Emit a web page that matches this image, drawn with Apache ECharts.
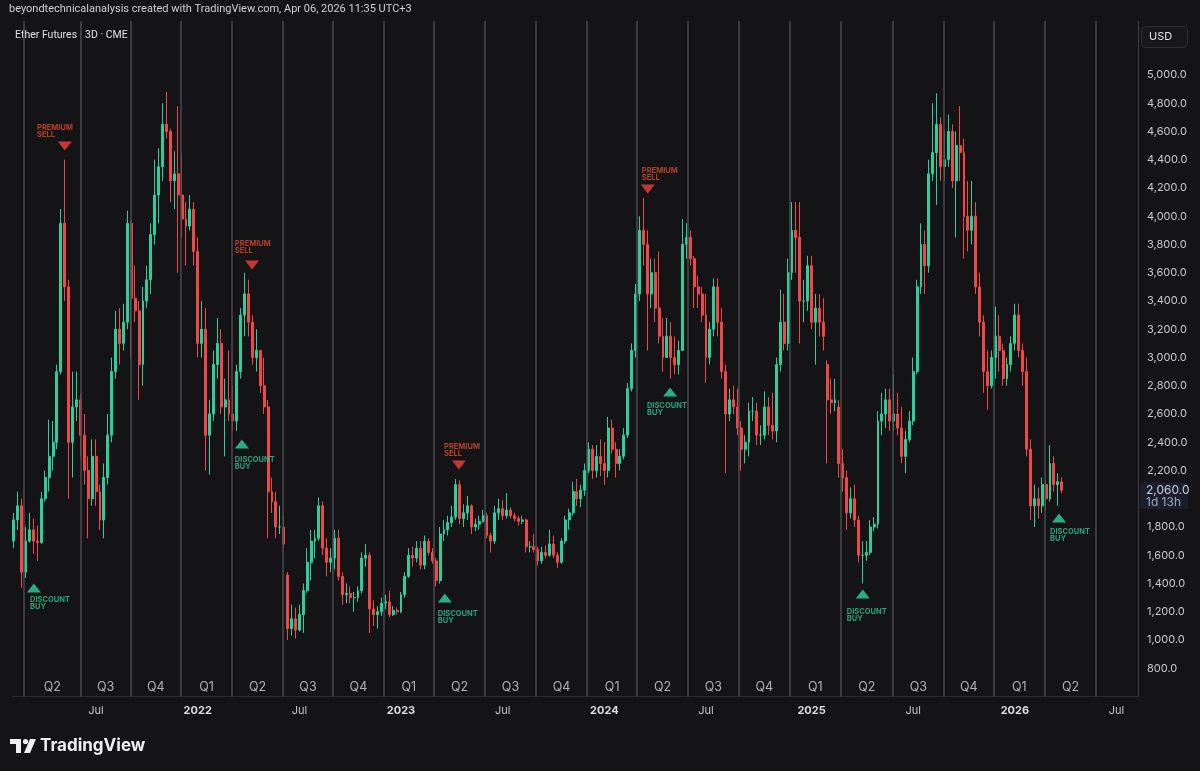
<!DOCTYPE html>
<html lang="en">
<head>
  <meta charset="UTF-8">
  <title>Ether Futures · 3D · CME</title>
  <script src="https://cdn.jsdelivr.net/npm/echarts@6/dist/echarts.min.js"></script>
  <style>
    html, body { margin: 0; padding: 0; background: #141416; }
    #main { width: 1200px; height: 771px; }
  </style>
</head>
<body>
  <div id="main"></div>

  <script>
  // weekly candles, first week starts Mon 2021-02-08
  const firstWeek = Date.UTC(2021, 1, 8);
  const totalWeeks = 288;   // axis runs on to early Aug 2026

  const opens = [
    1700,1850,1950,1480,1700,1780,1700,1690,2000,2150,
    2300,2400,2900,3950,3500,2400,2650,2700,2450,2200,
    2000,2300,2050,1850,2150,2450,2900,3200,3100,3250,
    3950,3420,3330,2950,3400,3550,3870,4150,4350,4650,
    4600,4250,4300,4150,3980,3930,4050,3750,3100,3200,
    2450,2600,2950,3100,2650,2700,2600,2550,2900,3300,
    3450,3250,3000,3050,2800,2650,2050,1980,1800,1800,
    1460,1080,1150,1070,1180,1350,1550,1700,1720,1950,
    1650,1550,1580,1720,1450,1320,1330,1300,1300,1350,
    1580,1600,1220,1180,1200,1260,1270,1180,1210,1200,
    1320,1450,1600,1580,1650,1530,1700,1620,1560,1420,
    1750,1780,1830,1870,2100,1860,1900,1950,1800,1820,
    1840,1880,1740,1700,1900,1930,1880,1920,1880,1860,
    1840,1850,1660,1660,1640,1560,1620,1600,1680,1600,
    1550,1700,1850,1900,2050,2000,2060,2200,2350,2200,
    2300,2250,2200,2500,2350,2250,2300,2450,2780,3050,
    3450,3900,3800,3450,3600,3350,3150,3000,3150,3000,
    2950,3050,3800,3850,3700,3500,3450,3300,3000,3200,
    3500,3250,2900,2600,2700,2650,2500,2350,2400,2620,
    2620,2450,2450,2650,2520,2480,2950,3250,3100,3600,
    3900,3850,3400,3400,3650,3250,3350,3250,2950,2700,
    2680,2650,2250,2150,1900,2000,1850,1600,1600,1620,
    1800,1820,2550,2600,2700,2550,2600,2500,2300,2420,
    2550,2900,3500,3800,3650,4300,4450,4650,4350,4400,
    4600,4250,4500,4450,4000,3900,4000,3500,3250,2900,
    2800,3000,3150,3050,2850,2950,3100,3300,3050,2900,
    2350,1950,2000,1950,2100,2000,2250,2100,2120
  ];
  const closes = [
    1850,1950,1480,1700,1780,1700,1690,2000,2150,2300,
    2400,2900,3950,3500,2400,2650,2700,2450,2200,2000,
    2300,2050,1850,2150,2450,2900,3200,3100,3250,3950,
    3420,3330,2950,3400,3550,3870,4150,4350,4650,4600,
    4250,4300,4150,3980,3930,4050,3750,3100,3200,2450,
    2600,2950,3100,2650,2700,2600,2550,2900,3300,3450,
    3250,3000,3050,2800,2650,2050,1980,1800,1800,1680,
    1080,1150,1070,1180,1350,1550,1700,1720,1950,1650,
    1550,1580,1720,1450,1320,1330,1300,1300,1350,1580,
    1600,1220,1180,1200,1260,1270,1180,1210,1200,1320,
    1450,1600,1580,1650,1530,1700,1620,1560,1420,1750,
    1780,1830,1870,2100,1860,1900,1950,1800,1820,1840,
    1880,1740,1700,1900,1930,1880,1920,1880,1860,1840,
    1850,1660,1660,1640,1560,1620,1600,1680,1600,1550,
    1700,1850,1900,2050,2000,2060,2200,2350,2200,2300,
    2250,2200,2500,2350,2250,2300,2450,2780,3050,3450,
    3900,3800,3450,3600,3350,3150,3000,3150,3000,2950,
    3050,3800,3850,3700,3500,3450,3300,3000,3200,3500,
    3250,2900,2600,2700,2650,2500,2350,2400,2620,2620,
    2450,2450,2650,2520,2480,2950,3250,3100,3600,3900,
    3850,3400,3400,3650,3250,3350,3250,3150,2700,2680,
    2700,2250,2150,1900,2000,1850,1600,1600,1620,1800,
    1820,2550,2600,2700,2550,2600,2500,2300,2420,2550,
    2900,3500,3800,3650,4300,4450,4650,4350,4400,4600,
    4250,4500,4450,4000,3900,4000,3500,3250,2900,2800,
    3000,3150,3050,2850,2950,3100,3300,3050,2900,2350,
    1950,2000,1950,2100,2000,2250,2100,2120,2060
  ];
  const lows = [
    1650,1780,1370,1440,1690,1610,1560,1680,1980,2050,
    2200,2350,2880,3400,2000,2150,2550,2300,2100,1720,
    1950,1950,1780,1720,2100,2400,2850,2950,3050,3200,
    3000,3250,2700,2800,3350,3450,3800,3950,4250,4550,
    4100,4050,3600,3850,3650,3900,3650,3000,3000,2200,
    2170,2550,2850,2600,2300,2550,2480,2480,2850,3150,
    3150,2950,2900,2750,2600,1720,1900,1720,1750,1650,
    1000,1030,1010,1060,1050,1330,1420,1580,1700,1600,
    1450,1480,1500,1420,1250,1260,1260,1200,1270,1330,
    1520,1050,1100,1080,1170,1220,1160,1170,1180,1190,
    1300,1440,1520,1550,1500,1500,1600,1540,1380,1400,
    1700,1740,1800,1850,1820,1800,1850,1750,1770,1780,
    1830,1720,1620,1680,1850,1850,1860,1860,1840,1810,
    1820,1620,1620,1620,1530,1540,1580,1590,1580,1510,
    1540,1680,1780,1880,1950,1940,2020,2180,2140,2150,
    2160,2100,2150,2320,2150,2200,2280,2430,2760,3000,
    3400,3650,3050,3350,3250,3100,2900,3000,2850,2880,
    2880,3050,3700,3650,3350,3350,3250,2820,2950,3150,
    3150,2850,2180,2550,2600,2450,2200,2250,2300,2550,
    2380,2380,2420,2450,2420,2400,2900,3050,3050,3550,
    3600,3100,3250,3330,3200,2950,3150,3050,2250,2600,
    2620,2150,2050,1780,1860,1800,1550,1400,1560,1600,
    1770,1790,2450,2500,2480,2480,2450,2250,2180,2400,
    2520,2880,3450,3450,3600,4250,4080,4250,4250,4350,
    4200,3850,4250,3700,3750,3800,3450,3150,2750,2630,
    2780,2850,2900,2800,2800,2900,3050,3000,2800,2300,
    1850,1800,1860,1900,1920,1980,2050,1950,2040
  ];
  const highs = [
    1900,2050,2000,1800,1900,1860,1810,2050,2200,2560,
    2550,2950,4050,4400,3550,2900,2900,2750,2600,2300,
    2420,2420,2100,2250,2600,3000,3330,3350,3380,4040,
    3980,3650,3400,3500,3650,3950,4400,4480,4800,4880,
    4620,4460,4780,4450,4100,4150,4100,3850,3400,3350,
    2700,3050,3280,3200,2850,3050,2800,2950,3350,3600,
    3550,3300,3200,3050,3000,2700,2150,2050,1950,1880,
    1480,1250,1230,1250,1400,1650,1780,1780,2010,1980,
    1720,1650,1780,1780,1480,1400,1380,1340,1380,1620,
    1680,1620,1280,1240,1300,1320,1350,1240,1230,1340,
    1480,1650,1660,1700,1700,1740,1720,1650,1580,1800,
    1850,1880,1950,2140,2130,1960,2020,1960,1860,1880,
    1920,1900,1760,1950,2000,1990,2040,1940,1900,1880,
    1880,1860,1700,1750,1660,1660,1670,1780,1740,1620,
    1720,1880,1930,2120,2140,2100,2250,2400,2380,2380,
    2420,2400,2580,2560,2400,2350,2500,2820,3100,3520,
    4000,4130,3900,3700,3700,3750,3280,3280,3250,3150,
    3120,3980,3950,3900,3720,3580,3500,3450,3250,3560,
    3560,3350,2950,2780,2800,2780,2550,2450,2680,2720,
    2680,2520,2760,2720,2750,3000,3480,3450,3700,4100,
    4100,4100,3550,3720,3720,3450,3450,3420,2980,2850,
    2850,2700,2350,2200,2080,2100,1880,1700,1700,1850,
    1870,2620,2750,2780,2780,2880,2750,2650,2480,2620,
    3000,3550,3950,3900,4400,4800,4870,4700,4600,4720,
    4650,4600,4780,4550,4250,4250,4100,3600,3300,3050,
    3050,3360,3300,3100,3000,3150,3380,3380,3100,3000,
    2420,2100,2080,2150,2130,2380,2300,2180,2150
  ];

  // quarter dividers of the session indicator, in weeks from the first bar
  const quarterLineWeeks = [2.6, 17.0, 29.9, 42.7, 55.8, 68.8, 81.6, 94.6, 107.4, 120.5, 133.5,
                            146.6, 159.4, 172.4, 185.4, 198.4, 211.5, 224.8, 237.8, 250.6, 263.7, 276.8];
  const quarterLabels = ['Q2','Q3','Q4','Q1','Q2','Q3','Q4','Q1','Q2','Q3','Q4',
                         'Q1','Q2','Q3','Q4','Q1','Q2','Q3','Q4','Q1','Q2'];

  // signal markers (week position, price level)
  const sellWeeks = [13.0, 60.9, 113.8, 162.1];
  const sellLevels = [4497, 3655, 2239, 4193];
  const sellTextWeeks = [5.9, 56.5, 110.0, 160.6];
  const sellTextLevels = [4600, 3779, 2345, 4296];
  const buyWeeks = [5.1, 58.3, 110.2, 167.8, 217.1, 267.3];
  const buyLevels = [1368, 2387, 1297, 2756, 1325, 1864];
  const buyTextWeeks = [4.1, 56.5, 108.4, 161.9, 213.0, 265.0];
  const buyTextLevels = [1262, 2253, 1163, 2635, 1172, 1743];

  const UP = '#2bcf9c';
  const DOWN = '#f0474a';
  const FONT = 'Inter, "Noto Sans", sans-serif';

  const weekCats = [];
  for (let k = 0; k < totalWeeks; k++) {
    weekCats.push(new Date(firstWeek + k * 7 * 864e5).toISOString().slice(0, 10));
  }
  const candles = opens.map((o, i) => [o, closes[i], lows[i], highs[i]]);
  const quarterMid = quarterLabels.map((q, i) => [(quarterLineWeeks[i] + quarterLineWeeks[i + 1]) / 2, 667]);
  const lastClose = closes[closes.length - 1];

  function fmtPrice(v) {
    return Math.round(v).toString().replace(/\B(?=(\d{3})+(?!\d))/g, ',') + '.0';
  }
  function isLabelWeek(idx) {
    const d = new Date(weekCats[idx] + 'T00:00:00Z');
    return d.getUTCDate() <= 7 && (d.getUTCMonth() === 0 || d.getUTCMonth() === 6);
  }

  const chart = echarts.init(document.getElementById('main'));

  chart.setOption({
    animation: false,
    backgroundColor: '#141416',
    textStyle: { fontFamily: FONT },
    grid: { left: 12, right: 62, top: 21.3, height: 675.2 },
    xAxis: [{
      type: 'category',
      data: weekCats,
      boundaryGap: true,
      axisLine: { lineStyle: { color: '#2c2c30' } },
      axisTick: { show: false },
      splitLine: { show: false },
      axisLabel: {
        interval: (idx) => isLabelWeek(idx),
        margin: 9,
        color: '#c3c5cc',
        fontSize: 11,
        fontFamily: FONT,
        formatter: (val) => {
          const d = new Date(val + 'T00:00:00Z');
          return d.getUTCMonth() === 0 ? '{yr|' + d.getUTCFullYear() + '}' : 'Jul';
        },
        rich: { yr: { fontWeight: 'bold', color: '#dcdee4', fontSize: 11, fontFamily: FONT } }
      }
    }, {
      type: 'value',
      min: -0.5,
      max: totalWeeks - 0.5,
      show: false
    }],
    yAxis: {
      type: 'value',
      position: 'right',
      min: 600,
      max: 5380,
      interval: 200,
      splitLine: { show: false },
      axisLine: { show: true, onZero: false, lineStyle: { color: '#3e3e43' } },
      axisTick: { show: false },
      axisLabel: {
        margin: 9,
        color: '#c8cad0',
        fontSize: 11,
        fontFamily: FONT,
        // the last price tag covers the nearest tick
        formatter: (v) => (v < 800 || v > 5000 || Math.abs(v - lastClose) < 100) ? '' : fmtPrice(v)
      }
    },
    series: [{
      name: 'quarters',
      type: 'scatter',
      xAxisIndex: 1,
      z: 1,
      silent: true,
      symbolSize: 0,
      data: quarterMid,
      label: {
        show: true,
        position: 'inside',
        color: '#d6d8de',
        fontSize: 12.5,
        fontFamily: FONT,
        formatter: (p) => quarterLabels[p.dataIndex]
      },
      markLine: {
        silent: true,
        symbol: 'none',
        label: { show: false },
        lineStyle: { color: '#4a4a50', width: 1.5, type: 'solid' },
        data: quarterLineWeeks.map(w => ({ xAxis: w }))
      }
    }, {
      name: 'Ether Futures',
      type: 'candlestick',
      z: 3,
      barWidth: '62%',
      data: candles,
      itemStyle: {
        color: UP, color0: DOWN,
        borderColor: UP, borderColor0: DOWN,
        borderWidth: 1
      }
    }, {
      name: 'sell',
      type: 'scatter',
      xAxisIndex: 1,
      z: 4,
      symbol: 'triangle',
      symbolRotate: 180,
      symbolSize: [14, 9],
      itemStyle: { color: '#f23f3f' },
      data: sellWeeks.map((w, i) => [w, sellLevels[i]])
    }, {
      name: 'buy',
      type: 'scatter',
      xAxisIndex: 1,
      z: 4,
      symbol: 'triangle',
      symbolSize: [14, 9],
      itemStyle: { color: '#31d3a0' },
      data: buyWeeks.map((w, i) => [w, buyLevels[i]])
    }, {
      name: 'sellText',
      type: 'scatter',
      xAxisIndex: 1,
      z: 4,
      symbolSize: 0,
      data: sellTextWeeks.map((w, i) => [w, sellTextLevels[i]]),
      label: {
        show: true, position: 'right', distance: 0,
        formatter: 'PREMIUM\nSELL',
        color: '#de4a2e', fontSize: 7.5, lineHeight: 7, fontWeight: 'bold', fontFamily: FONT
      }
    }, {
      name: 'buyText',
      type: 'scatter',
      xAxisIndex: 1,
      z: 4,
      symbolSize: 0,
      data: buyTextWeeks.map((w, i) => [w, buyTextLevels[i]]),
      label: {
        show: true, position: 'right', distance: 0,
        formatter: 'DISCOUNT\nBUY',
        color: '#2fc593', fontSize: 7.5, lineHeight: 7, fontWeight: 'bold', fontFamily: FONT
      }
    }]
  });

  // last price tag on the price scale
  const py = chart.convertToPixel({ yAxisIndex: 0 }, lastClose);

  chart.setOption({
    graphic: [
      { type: 'text', left: 9, top: 4,
        style: { text: 'beyondtechnicalanalysis created with TradingView.com, Apr 06, 2026 11:35 UTC+3',
                 fill: '#cfd0d4', font: '11px Roboto, ' + FONT } },
      { type: 'text', left: 15, top: 30,
        style: { text: 'Ether Futures · 3D · CME', fill: '#dfe0e4', font: '10.5px Roboto, ' + FONT } },
      { type: 'rect', shape: { x: 1141.5, y: 26.5, width: 46, height: 21, r: 4 },
        style: { fill: '#18181b', stroke: '#2f2f34', lineWidth: 1 } },
      { type: 'text', x: 1149, y: 37,
        style: { text: 'USD', fill: '#e2e3e7', font: '11px ' + FONT, verticalAlign: 'middle' } },
      { type: 'rect', z: 10, shape: { x: 1140, y: py - 8, width: 48, height: 27, r: 2 },
        style: { fill: '#1a1f2d' } },
      { type: 'text', z: 11, x: 1146, y: py,
        style: { text: fmtPrice(lastClose), fill: '#c9cdd8', font: '12px ' + FONT, verticalAlign: 'middle' } },
      { type: 'text', z: 11, x: 1146, y: py + 12,
        style: { text: '1d 13h', fill: '#9da6bf', font: '12px ' + FONT, verticalAlign: 'middle' } },
      // TradingView wordmark
      { type: 'rect', shape: { x: 10, y: 739, width: 11, height: 5 }, style: { fill: '#f0f0f0' } },
      { type: 'rect', shape: { x: 16, y: 739, width: 5, height: 14 }, style: { fill: '#f0f0f0' } },
      { type: 'circle', shape: { cx: 25.5, cy: 741.5, r: 2.6 }, style: { fill: '#f0f0f0' } },
      { type: 'polygon', shape: { points: [[30, 739], [36, 739], [30, 753], [24, 753]] }, style: { fill: '#f0f0f0' } },
      { type: 'text', x: 40, y: 746,
        style: { text: 'TradingView', fill: '#f0f0f0', font: 'bold 17px ' + FONT, verticalAlign: 'middle' } }
    ]
  });
  </script>
</body>
</html>
